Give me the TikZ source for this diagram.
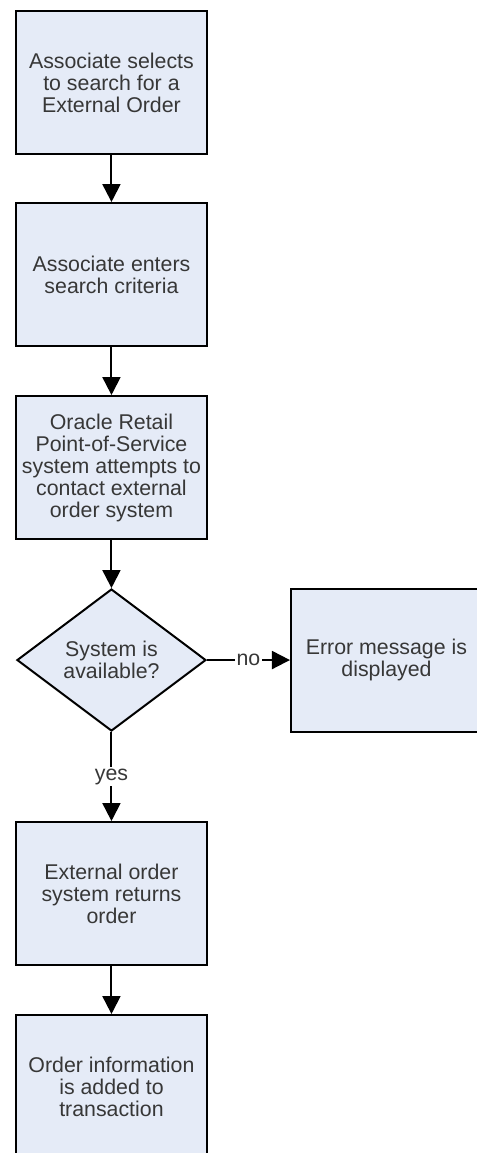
\documentclass[tikz,border=0pt]{standalone}
\usepackage{fontspec}
\setmainfont{Liberation Sans}
\usetikzlibrary{positioning,shapes.geometric,arrows.meta}

\definecolor{boxFill}{RGB}{229,235,247}
\definecolor{txtGray}{RGB}{55,55,55}

\tikzstyle{stepNode} = [rectangle, minimum width=143.25pt, minimum height=107.25pt, inner sep=0pt, text centered, align=center, draw=black, line width=1.5pt, fill=boxFill, text=txtGray, font=\fontsize{16}{16.5}\selectfont]
\tikzstyle{decNode} = [diamond, minimum width=141.75pt, minimum height=106.5pt, inner sep=0pt, text centered, align=center, draw=black, line width=1.5pt, fill=boxFill, text=txtGray, font=\fontsize{16}{16.5}\selectfont]
\tikzstyle{arrow} = [line width=1.5pt, -{Triangle[length=13.5pt,width=13.5pt]}]
\tikzstyle{lbl} = [fill=white, inner sep=1pt, text=txtGray, font=\fontsize{16}{16.5}\selectfont]

\begin{document}
\begin{tikzpicture}[node distance=36pt]
    \useasboundingbox (0,0) rectangle (357.75pt,-864.75pt);
    \clip (0,0) rectangle (357.75pt,-864.75pt);

    \node (select)[stepNode] at (83.6pt,-61.9pt) {Associate selects\\ to search for a\\ External Order};
    \node (criteria)[stepNode, below=35.25pt of select] {Associate enters\\ search criteria};
    \node (contact)[stepNode, below=of criteria] {Oracle Retail\\ Point-of-Service\\ system attempts to\\ contact external\\ order system};
    \node (avail)[decNode, below=of contact] {System is\\ available?};
    \node (error)[stepNode, right=62.25pt of avail] {Error message is\\ displayed};
    \node (returns)[stepNode, below=66.75pt of avail] {External order\\ system returns\\ order};
    \node (added)[stepNode, below=of returns] {Order information\\ is added to\\ transaction};

    \draw [arrow] (select) -- (criteria);
    \draw [arrow] (criteria) -- (contact);
    \draw [arrow] (contact) -- (avail);
    \draw [arrow] (avail) -- node[lbl] {no} (error);
    \draw [arrow] (avail) -- node[lbl] {yes} (returns);
    \draw [arrow] (returns) -- (added);

\end{tikzpicture}
\end{document}
